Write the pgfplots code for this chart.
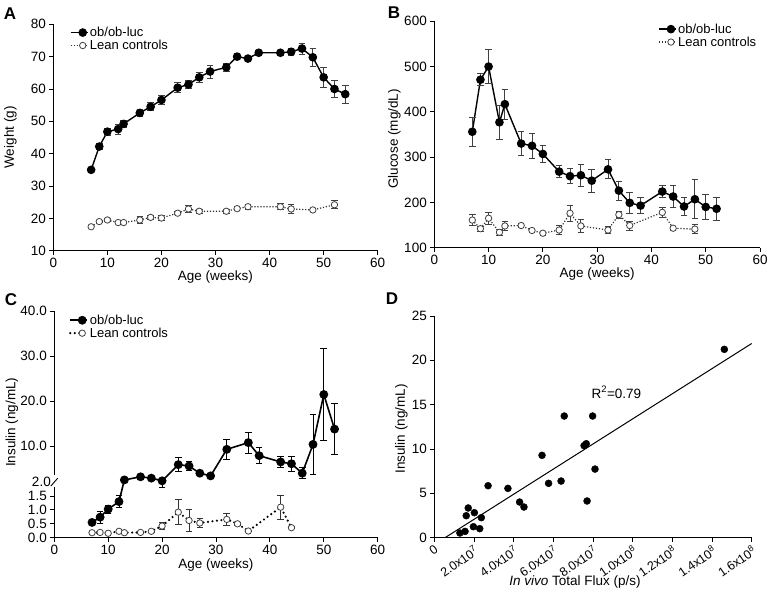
\documentclass[border=0pt]{standalone}
\usepackage{fontspec}
\setmainfont{Liberation Sans}
\usepackage{pgfplots}
\usepackage{pgfplotstable}
\pgfplotsset{compat=1.18}

% age (weeks), mean, error
\pgfplotstableread{
x y e
7 35.0 0.5
8.5 42.2 1.0
10 46.8 1.0
12 47.6 1.5
13 49.2 1.0
16 52.6 1.2
18 54.5 1.2
20 56.6 1.5
23 60.4 1.5
25 61.4 1.3
27 63.6 1.6
29 65.4 2.0
32 66.7 1.3
34 70.0 1.0
36 69.4 0.8
38 71.2 0.8
42 71.2 0.8
44 71.5 1.2
46 72.5 1.7
48 69.8 2.8
50 63.6 3.2
52 60.0 2.5
54 58.4 2.8
}\weightob
\pgfplotstableread{
x y e
7 17.4 0.3
8.5 19.0 0.4
10 19.5 0.4
12 18.7 0.4
13 18.7 0.4
16 19.5 1.0
18 20.3 0.5
20 20.1 0.7
23 21.6 0.5
25 22.9 1.0
27 22.2 0.6
32 22.2 0.7
34 23.0 0.6
36 23.6 0.7
42 23.6 0.9
44 22.9 1.4
48 22.6 0.6
52 24.2 1.2
}\weightlean
\pgfplotstableread{
x y e
7 356 32
8.5 471 13
10 500 37
12 377 38
13 417 33
16 330 27
18 325 27
20 307 18
23 268 13
25 258 17
27 260 24
29 248 26
32 273 21
34 226 21
36 199 23
38 193 18
42 224 13
44 213 25
46 191 19
48 207 43
50 190 27
52 186 26
}\glucob
\pgfplotstableread{
x y e
7 161 12
8.5 142 5
10 165 13
12 134 7
13 148 10
16 149 5
18 138 5
20 132 5
23 139 10
25 176 18
27 148 15
32 139 8
34 173 8
36 149 10
42 178 12
44 143 4
48 141 10
}\gluclean
% insulin: y in ng/mL; errors (ep, em) are given on the drawn scale,
% where everything above 2 is squeezed by a factor 0.162
\pgfplotstableread{
x y ep em
7 0.55 0.05 0.05
8.5 0.74 0.22 0.22
10 1.03 0.15 0.15
12 1.30 0.22 0.22
13 2.5 0.04 0.04
16 3.2 0.081 0.081
18 2.9 0.065 0.065
20 2.3 0.05 0.25
23 5.9 0.259 0.259
25 5.6 0.162 0.162
27 4.0 0.081 0.081
29 3.4 0.065 0.065
32 9.3 0.373 0.373
36 10.8 0.373 0.373
38 7.9 0.292 0.292
42 6.5 0.211 0.211
44 6.1 0.259 0.259
46 4.0 0.194 0.194
48 10.4 1.085 1.085
50 21.5 1.669 1.669
52 13.8 0.923 0.923
}\insob
\pgfplotstableread{
x y ep em
7 0.18 0.02 0.02
8.5 0.19 0.02 0.02
10 0.16 0.02 0.02
12 0.23 0.02 0.02
13 0.18 0.02 0.02
16 0.19 0.03 0.03
18 0.23 0.03 0.03
20 0.42 0.13 0.13
23 0.92 0.45 0.45
25 0.62 0.40 0.40
27 0.53 0.15 0.15
32 0.66 0.20 0.20
34 0.50 0.05 0.05
36 0.24 0.03 0.03
42 1.10 0.43 0.43
44 0.36 0.03 0.03
}\inslean
% total flux (p/s), insulin (ng/mL)
\pgfplotstableread{
x y
1.29e7 0.53
1.55e7 0.71
1.61e7 2.48
1.71e7 3.35
1.97e7 1.24
2.02e7 2.82
2.29e7 1.02
2.37e7 2.26
2.71e7 5.86
3.71e7 5.56
4.30e7 4.02
4.52e7 3.46
5.43e7 9.29
5.76e7 6.13
6.39e7 6.39
6.55e7 13.72
7.55e7 10.38
7.66e7 10.60
7.70e7 4.14
7.98e7 13.72
8.10e7 7.74
14.62e7 21.24
}\flux

\pgfplotsset{
  panel/.style={
    scale only axis, anchor=south west, clip=false,
    axis lines=left, axis line style={-, line width=0.9pt},
    tick align=outside, major tick length=4pt,
    tick style={black, line width=0.9pt},
    font=\fontsize{13.5}{16}\selectfont,
    /pgf/number format/assume math mode=true,
    every axis x label/.style={at={([yshift=-26pt]axis description cs:0.5,0)}, anchor=center},
    every axis y label/.style={at={([xshift=-42pt]axis description cs:0,0.5)}, rotate=90, anchor=center},
    legend style={draw=none, fill=none, inner sep=0pt, row sep=-1pt,
      font=\fontsize{13}{15}\selectfont, cells={anchor=west},
      nodes={inner sep=1.5pt}},
    legend image code/.code={\draw[mark repeat=2, mark phase=2, #1]
      plot coordinates {(0pt,0pt) (12pt,0pt) (17pt,0pt)};},
  },
  ob/.style={black, line width=1.4pt, mark=*, mark size=3.6pt,
    mark options={solid, fill=black}},
  lean/.style={black!80, line width=1.2pt, dash pattern=on 1.2pt off 1.8pt,
    mark=*, mark size=3.2pt,
    mark options={solid, fill=white, draw=black!75, line width=0.8pt}},
  ebar/.style={error bars/y dir=both, error bars/y explicit,
    error bars/error bar style={solid, line width=0.8pt, #1},
    error bars/error mark options={rotate=90, mark size=3.3pt, line width=0.8pt, #1}},
  ebar/.default={black!75},
}

\begin{document}
\begin{tikzpicture}
\useasboundingbox (0,0) rectangle (770pt,594pt);

% ---- A ----
\begin{axis}[panel, at={(53.3pt,343.3pt)}, width=324.4pt, height=226.4pt,
  xmin=0, xmax=60, ymin=10, ymax=80,
  xtick={0,10,...,60}, ytick={10,20,...,80},
  xlabel={Age (weeks)}, ylabel={Weight (g)},
  every axis y label/.style={at={([xshift=-43pt]axis description cs:0,0.5)}, rotate=90, anchor=center},
  legend style={at={(0.051,0.995)}, anchor=north west}]
\addplot[ob, ebar] table[x=x, y=y, y error=e] {\weightob};
\addlegendentry{ob/ob-luc}
\addplot[lean, ebar] table[x=x, y=y, y error=e] {\weightlean};
\addlegendentry{Lean controls}
\end{axis}
\node[font=\fontsize{17}{17}\bfseries] at (10pt,580pt) {A};

% ---- B ----
\begin{axis}[panel, at={(434.3pt,346.3pt)}, width=325.7pt, height=226.4pt,
  xmin=0, xmax=60, ymin=100, ymax=600,
  xtick={0,10,...,60}, ytick={100,200,...,600},
  xlabel={Age (weeks)}, ylabel={Glucose (mg/dL)},
  every axis y label/.style={at={([xshift=-40pt]axis description cs:0,0.48)}, rotate=90, anchor=center},
  legend style={at={(0.687,0.997)}, anchor=north west}]
\addplot[ob, ebar] table[x=x, y=y, y error=e] {\glucob};
\addlegendentry{ob/ob-luc}
\addplot[lean, ebar] table[x=x, y=y, y error=e] {\gluclean};
\addlegendentry{Lean controls}
\end{axis}
\node[font=\fontsize{17}{17}\bfseries] at (394pt,581pt) {B};

% ---- C (broken axis: above 2 the scale is compressed) ----
\begin{axis}[panel, at={(54.3pt,56.3pt)}, width=323.4pt, height=226.4pt,
  y coord trafo/.code={\pgfmathparse{#1>2 ? 2+(#1-2)*0.162 : #1}},
  y coord inv trafo/.code={\pgfmathparse{#1>2 ? 2+(#1-2)/0.162 : #1}},
  xmin=0, xmax=60, ymin=0, ymax=40,
  xtick={0,10,...,60},
  ytick={0,0.5,1,1.5,10,20,30,40},
  yticklabels={0.0,0.5,1.0,1.5,10.0,20.0,30.0,40.0},
  extra y ticks={2}, extra y tick labels={2.0},
  extra y tick style={major tick length=0pt},
  y axis line style={draw=none},
  xlabel={Age (weeks)}, ylabel={Insulin (ng/mL)},
  every axis x label/.style={at={([yshift=-27pt]axis description cs:0.5,0)}, anchor=center},
  every axis y label/.style={at={([xshift=-42.5pt]axis description cs:0,0.51)}, rotate=90, anchor=center},
  legend style={at={(0.045,0.992)}, anchor=north west}]
\draw[line width=0.9pt] (axis cs:0,0) -- (axis cs:0,1.83);
\draw[line width=0.9pt] (axis cs:0,3.5) -- (axis cs:0,40);
\draw[line width=0.9pt] ([xshift=-3.5pt,yshift=-4pt]axis cs:0,2.02) -- ([xshift=3.5pt,yshift=4pt]axis cs:0,2.02);
\addplot[ob, line width=1.6pt, ebar=black] table[x=x, y=y, y error plus=ep, y error minus=em] {\insob};
\addlegendentry{ob/ob-luc}
\addplot[lean, black, line width=2.4pt, line cap=round, dash pattern=on 0pt off 4.5pt, ebar=black!80] table[x=x, y=y, y error plus=ep, y error minus=em] {\inslean};
\addlegendentry{Lean controls}
\end{axis}
\node[font=\fontsize{17}{17}\bfseries] at (11pt,294pt) {C};

% ---- D ----
\begin{axis}[panel, at={(434.3pt,56.3pt)}, width=317.4pt, height=221.7pt,
  xmin=0, xmax=1.6e8, ymin=0, ymax=25,
  scaled x ticks=false,
  xtick={0,2e7,4e7,6e7,8e7,1e8,1.2e8,1.4e8,1.6e8},
  xticklabels={0, 2.0x10\textsuperscript{7}, 4.0x10\textsuperscript{7}, 6.0x10\textsuperscript{7},
    8.0x10\textsuperscript{7}, 1.0x10\textsuperscript{8}, 1.2x10\textsuperscript{8},
    1.4x10\textsuperscript{8}, 1.6x10\textsuperscript{8}},
  x tick label style={rotate=35, anchor=north east, inner sep=2pt,
    font=\fontsize{12.5}{14}\selectfont},
  ytick={0,5,...,25},
  xlabel={\textit{In vivo} Total Flux (p/s)}, ylabel={Insulin (ng/mL)},
  every axis x label/.style={at={([yshift=-44pt]axis description cs:0.443,0)}, anchor=center},
  every axis y label/.style={at={([xshift=-33pt]axis description cs:0,0.49)}, rotate=90, anchor=center}]
\addplot[only marks, mark=*, mark size=3.5pt, black] table[x=x, y=y] {\flux};
\addplot[black, line width=1pt] coordinates {(5.4e6,0) (1.6e8,21.9)};
\node[anchor=west] at (axis cs:7.75e7,16.4) {R\textsuperscript{2}=0.79};
\end{axis}
\node[font=\fontsize{17}{17}\bfseries] at (392pt,295pt) {D};
\end{tikzpicture}
\end{document}
